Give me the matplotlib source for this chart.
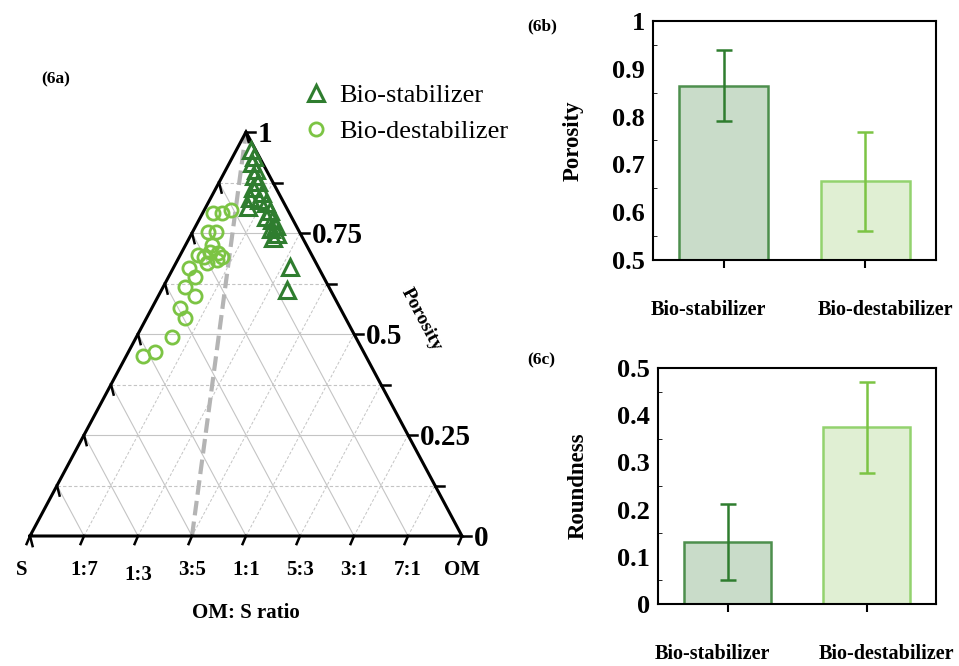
import numpy as np
import matplotlib
matplotlib.use("Agg")
import matplotlib.pyplot as plt
from matplotlib.transforms import ScaledTranslation

plt.rcParams["font.family"] = ["Liberation Serif", "DejaVu Serif"]

# ternary data: porosity and OM fraction (S = 1 - porosity - OM)
stab_por = [0.955, 0.938, 0.923, 0.906, 0.891, 0.876, 0.861, 0.849, 0.837, 0.832,
            0.824, 0.814, 0.805, 0.790, 0.782, 0.767, 0.760, 0.748, 0.738, 0.666, 0.609]
stab_om = [0.034, 0.049, 0.052, 0.070, 0.073, 0.090, 0.086, 0.113, 0.091, 0.114,
           0.134, 0.097, 0.153, 0.152, 0.169, 0.186, 0.178, 0.198, 0.194, 0.269, 0.290]
destab_por = [0.800, 0.800, 0.807, 0.753, 0.753, 0.720, 0.696, 0.691, 0.703, 0.701,
              0.691, 0.676, 0.683, 0.663, 0.641, 0.616, 0.594, 0.564, 0.540, 0.493,
              0.455, 0.446]
destab_om = [0.024, 0.045, 0.062, 0.036, 0.054, 0.061, 0.041, 0.058, 0.065, 0.085,
             0.099, 0.072, 0.091, 0.036, 0.061, 0.051, 0.085, 0.065, 0.089, 0.082,
             0.062, 0.039]
ratio_line_om = 0.375   # dashed OM:S = 3:5 reference line

ratio_labels = ["S", "1:7", "1:3", "3:5", "1:1", "5:3", "3:1", "7:1", "OM"]
por_labels = ["0", "0.25", "0.5", "0.75", "1"]

# bar data
groups = ["Bio-stabilizer", "Bio-destabilizer"]
porosity_mean = [0.865, 0.665]
porosity_err_lo = [0.790, 0.560]
porosity_err_hi = [0.940, 0.768]
round_mean = [0.132, 0.375]
round_err_lo = [0.050, 0.277]
round_err_hi = [0.212, 0.470]

DARK = "#2f7d2f"
LIGHT = "#7cc444"
FILLS = ["#c9dcc9", "#e0efd3"]
EDGES = ["#4d8f4d", "#93d26e"]
ERRC = [DARK, LIGHT]

W, H = 959, 666
fig = plt.figure(figsize=(W / 100, H / 100), dpi=100)


def tern(om, p):
    om = np.asarray(om, dtype=float)
    p = np.asarray(p, dtype=float)
    return om + p / 2, p


# ---------------- (6a) ternary ----------------
x0, y0, x1, y1 = 30, 536, 462, 132
ax = fig.add_axes([x0 / W, (H - y0) / H, (x1 - x0) / W, (y0 - y1) / H])
ax.set_xlim(0, 1)
ax.set_ylim(0, 1)
ax.axis("off")

grid_c = "#c4c4c4"
for k in range(1, 8):
    f = k / 8
    ls = "-" if k % 2 == 0 else (0, (3, 2))
    ax.plot([f / 2, 1 - f / 2], [f, f], color=grid_c, lw=0.8, ls=ls, zorder=1)
    ax.plot([f, f + (1 - f) / 2], [0, 1 - f], color=grid_c, lw=0.7, ls=(0, (3, 2)), zorder=1)
    ax.plot([1 - f, (1 - f) / 2], [0, 1 - f], color=grid_c, lw=0.8, zorder=1)

ax.plot([ratio_line_om, 0.5], [0, 1], color="#b4b4b4", lw=3, ls=(0, (3.5, 1.5)), zorder=2)

ax.plot([0, 1, 0.5, 0], [0, 0, 1, 0], color="black", lw=2.2, zorder=5,
        solid_joinstyle="miter", clip_on=False)

for k in range(9):
    f = k / 8
    # right edge ticks
    xr = 1 - f / 2
    ax.plot([xr, xr + 0.02], [f, f], color="black", lw=1.8, clip_on=False, zorder=5)
    # bottom ticks
    ax.plot([f, f - 0.008], [0, -0.02], color="black", lw=1.8, clip_on=False, zorder=5)
    # left edge ticks
    ax.plot([f / 2, f / 2 + 0.006], [f, f - 0.025], color="black", lw=1.8, clip_on=False, zorder=5)

for k, lab in enumerate(por_labels):
    f = k / 4
    ax.text(1 - f / 2 + 0.028, f - 0.005, lab, fontsize=21, fontweight="bold",
            ha="left", va="center", clip_on=False)

for k, lab in enumerate(ratio_labels):
    dx = -0.02 if k == 0 else 0.0
    dy = -0.012 if k == 2 else 0.0
    ax.text(k / 8 + dx, -0.06 + dy, lab, fontsize=15, fontweight="bold",
            ha="center", va="top", clip_on=False)

ax.text(0.5, -0.165, "OM: S ratio", fontsize=15, fontweight="bold",
        ha="center", va="top", clip_on=False)
ax.text(0.905, 0.535, "Porosity", fontsize=14, fontweight="bold", rotation=-62,
        ha="center", va="center", clip_on=False)
ax.text(0.06, 1.13, "(6a)", fontsize=12.5, fontweight="bold",
        ha="center", va="center", clip_on=False)

sx, sy = tern(stab_om, stab_por)
dx_, dy_ = tern(destab_om, destab_por)
ax.plot(dx_, dy_, ls="none", marker="o", ms=9.5, mfc="none", mec=LIGHT, mew=2.0,
        zorder=6, clip_on=False, label="Bio-destabilizer")
ax.plot(sx, sy, ls="none", marker="^", ms=11, mfc="none", mec=DARK, mew=2.2,
        zorder=7, clip_on=False, label="Bio-stabilizer")

h, l = ax.get_legend_handles_labels()
ax.legend(h[::-1], l[::-1], loc="upper left", bbox_to_anchor=(0.6, 1.145),
          frameon=False, fontsize=19, handletextpad=0.3, labelspacing=0.45,
          borderaxespad=0, handlelength=1.2)


# ---------------- bar panels ----------------
def bar_panel(rect, means, lo, hi, ylim, yticks, ylabel, tag, tag_y, label_drop):
    b = fig.add_axes(rect)
    xs = np.arange(len(groups))
    for i in xs:
        b.bar(i, means[i] - ylim[0], bottom=ylim[0], width=0.63, color=FILLS[i],
              edgecolor=EDGES[i], lw=1.8, zorder=2)
        b.errorbar(i, means[i], yerr=[[means[i] - lo[i]], [hi[i] - means[i]]],
                   color=ERRC[i], lw=1.8, capsize=6, capthick=1.8, zorder=3)
    b.set_xlim(-0.5, 1.5)
    b.set_ylim(*ylim)
    b.set_yticks(yticks)
    b.set_yticklabels([f"{v:g}" for v in yticks], fontsize=19, fontweight="bold")
    b.set_yticks(np.arange(ylim[0], ylim[1] + 1e-9, 0.05), minor=True)
    b.tick_params(axis="y", which="major", length=0, pad=6)
    b.tick_params(axis="y", which="minor", length=3, direction="in")
    b.set_xticks(xs)
    b.set_xticklabels([])
    b.tick_params(axis="x", length=6, width=1.5, direction="out")
    # group labels sit a little off their ticks, as in the original
    for i, (g, off) in enumerate(zip(groups, [-0.15, 0.2])):
        tr = b.get_xaxis_transform() + ScaledTranslation(off, -label_drop / 100,
                                                          fig.dpi_scale_trans)
        b.text(i, 0, g, transform=tr, fontsize=14.5, fontweight="bold",
               ha="center", va="center")
    for s in b.spines.values():
        s.set_linewidth(1.5)
    b.set_ylabel(ylabel, fontsize=16.5, fontweight="bold", labelpad=20)
    fig.text(527 / W, 1 - tag_y / H, tag, fontsize=12.5, fontweight="bold",
             ha="left", va="center")
    return b


bar_panel([653 / W, (H - 260) / H, 283 / W, 239 / H], porosity_mean,
          porosity_err_lo, porosity_err_hi, (0.5, 1.0),
          [0.5, 0.6, 0.7, 0.8, 0.9, 1.0], "Porosity", "(6b)", 26, 50)
bar_panel([658 / W, (H - 604) / H, 278 / W, 236 / H], round_mean,
          round_err_lo, round_err_hi, (0.0, 0.5),
          [0.0, 0.1, 0.2, 0.3, 0.4, 0.5], "Roundness", "(6c)", 360, 50)

fig.savefig("out.png", dpi=100)
